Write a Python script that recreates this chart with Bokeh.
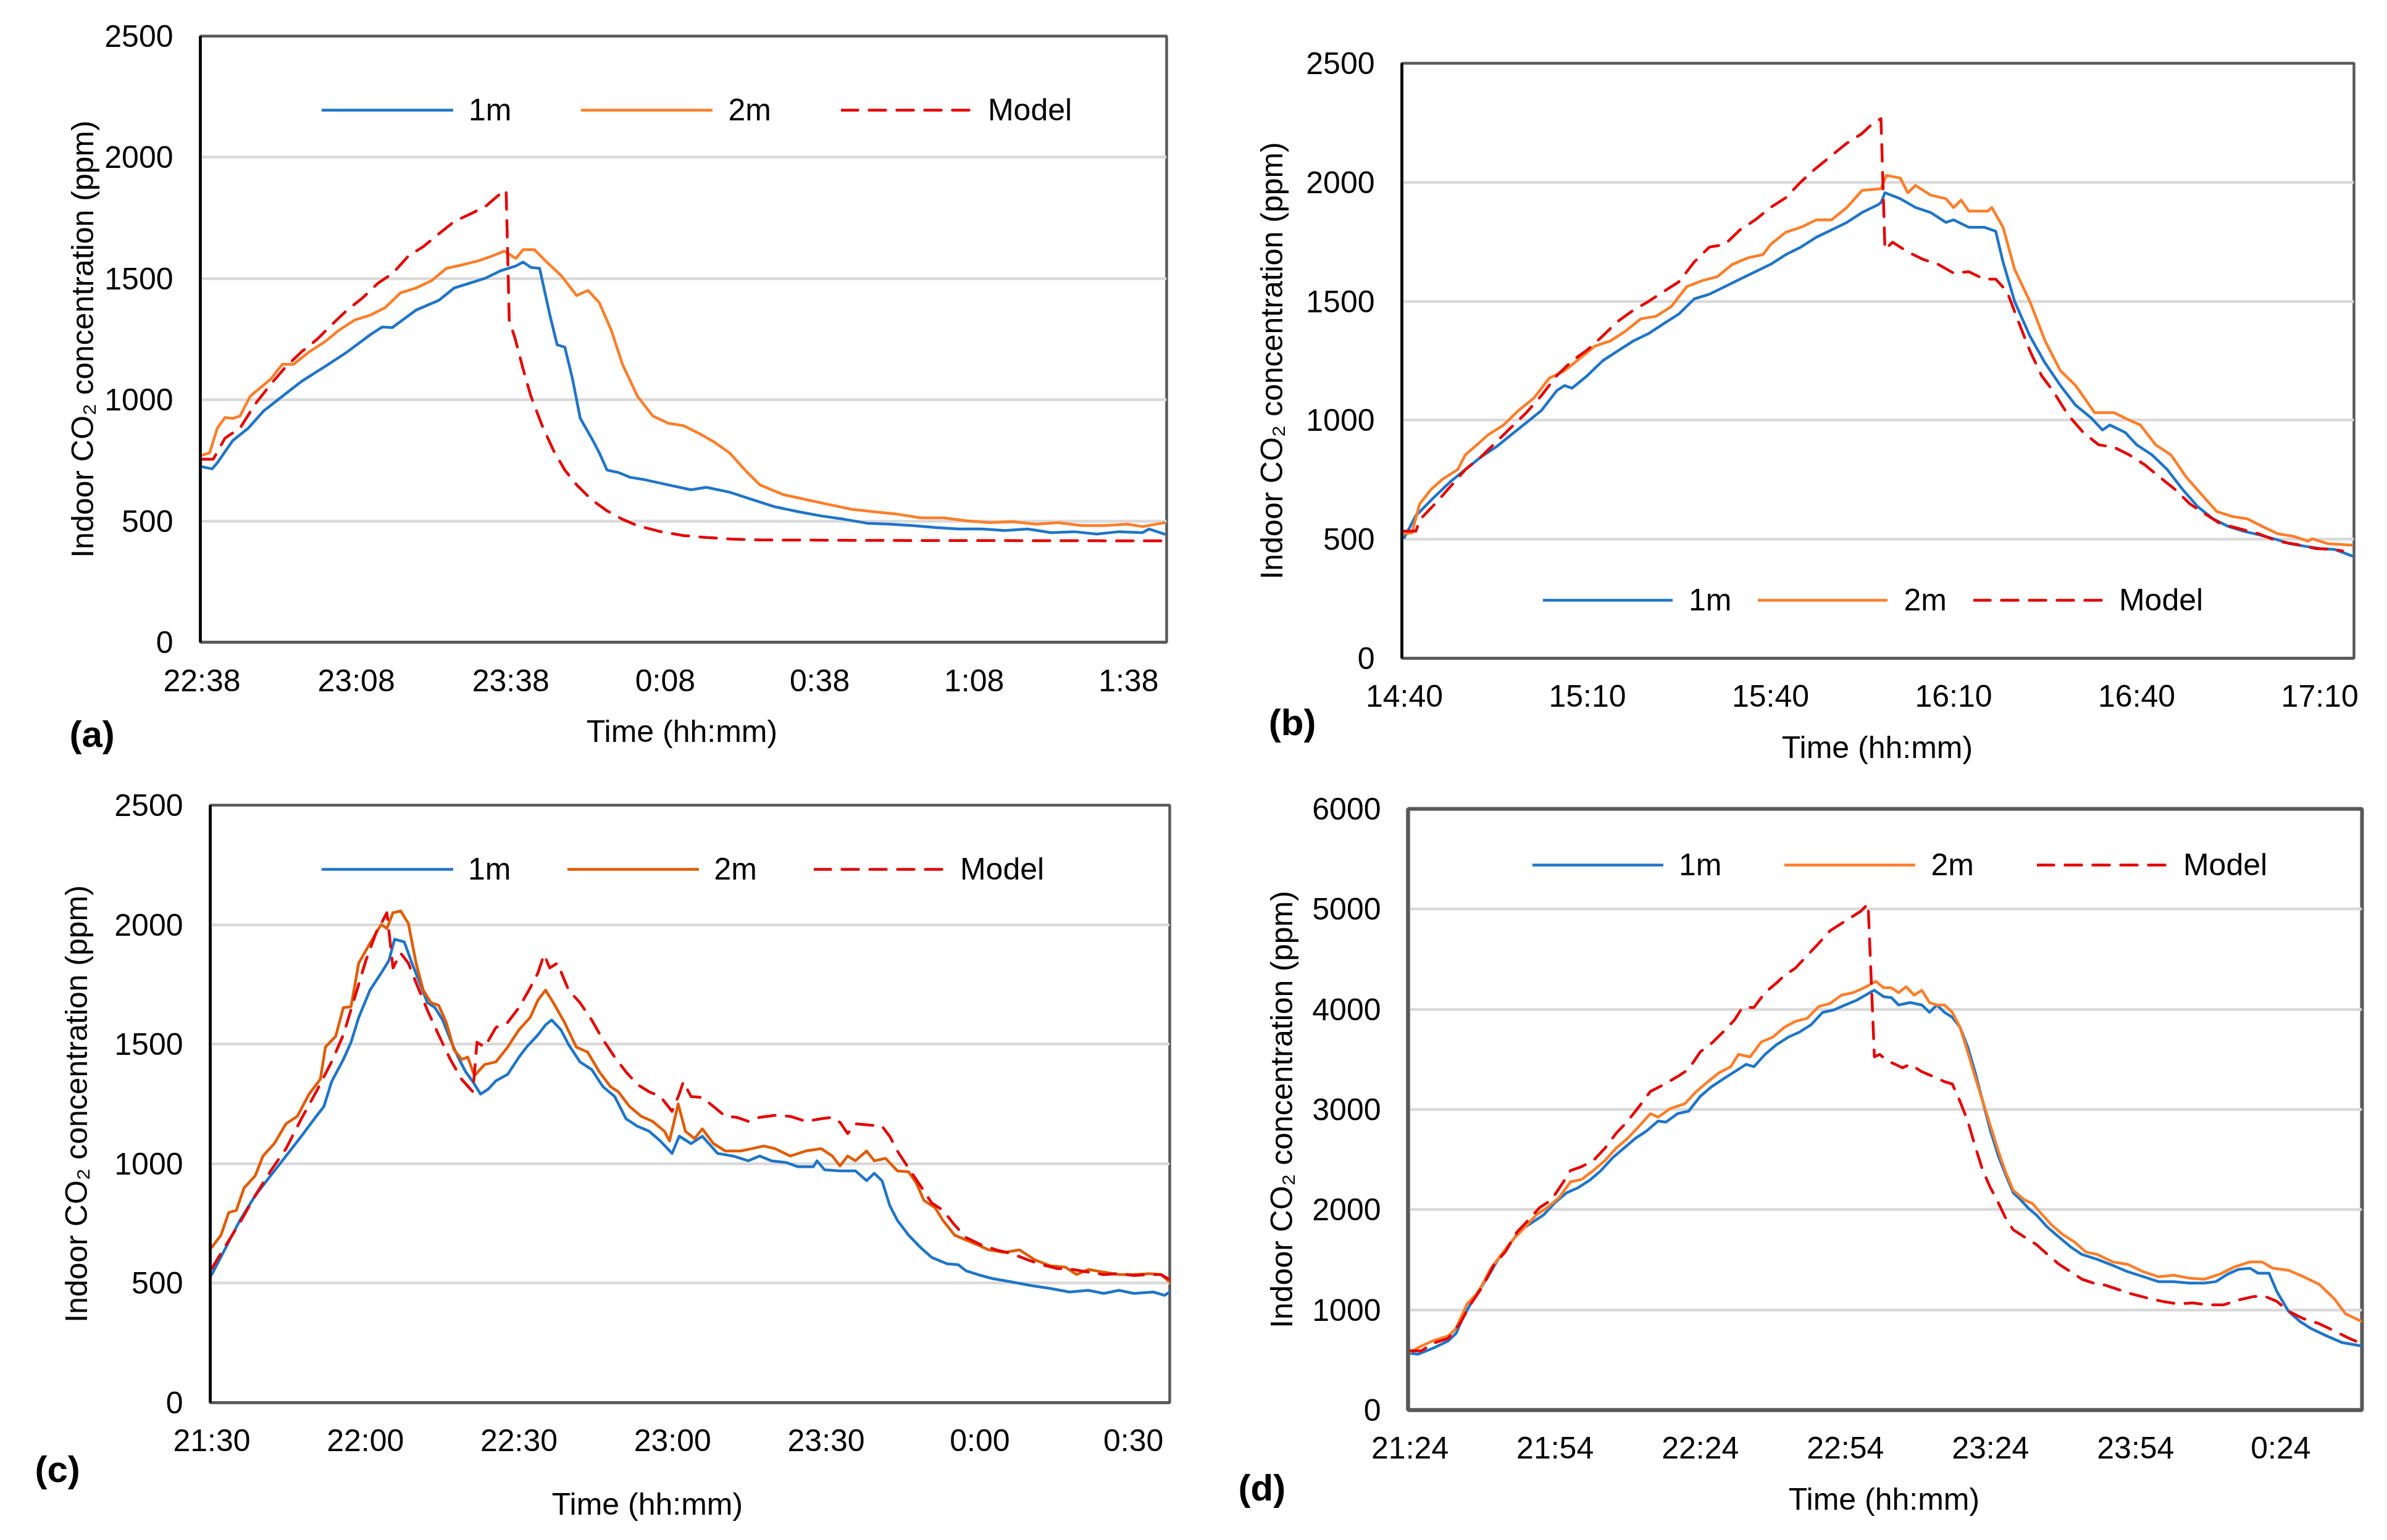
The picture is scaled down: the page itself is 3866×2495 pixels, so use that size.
from bokeh.plotting import figure
from bokeh.models import Range1d, FixedTicker, Legend, LegendItem, Label
from bokeh.layouts import column, row
from bokeh.embed import file_html
from bokeh.resources import INLINE

# ---------------- data (minutes from first tick, ppm) ----------------
a_ticks = ["22:38", "23:08", "23:38", "0:08", "0:38", "1:08", "1:38"]
b_ticks = ["14:40", "15:10", "15:40", "16:10", "16:40", "17:10"]
c_ticks = ["21:30", "22:00", "22:30", "23:00", "23:30", "0:00", "0:30"]
d_ticks = ["21:24", "21:54", "22:24", "22:54", "23:24", "23:54", "0:24"]

series_names = ["1m", "2m", "Model"]

a_1m = [(0,724),(2,715),(3,740),(6,832),(9,883),(12,954),(15,1004),(19.3,1075),(23.8,1136),(28.2,1197),
        (32.7,1268),(35,1300),(37,1298),(41.6,1370),(46,1410),(49,1461),(52,1481),(55,1501),(58,1532),
        (61,1552),(62.4,1568),(63.9,1546),(65.6,1542),(67.6,1349),(69,1227),(70.5,1217),(72,1085),
        (73.5,923),(75.7,842),(77.2,781),(78.7,710),(80.9,700),(83.2,680),(86.1,670),(90.6,649),(95,629),
        (98,639),(102.5,619),(107,588),(111.4,558),(116,538),(120.3,521),(124.8,507),(129.2,491),
        (133.7,487),(138.1,481),(142.6,473),(147,467),(151.5,467),(156,461),(160.4,467),(165,452),
        (169.4,456),(173.8,446),(178.2,456),(182.7,452),(184,467),(187,446)]
a_2m = [(0,771),(1.5,781),(3,883),(4.5,927),(6,923),(7.4,933),(9.4,1015),(11.1,1045),(13.4,1086),
        (15.6,1146),(17.8,1146),(20.8,1197),(23.8,1238),(26.7,1288),(29.7,1329),(32.7,1349),(35.6,1380),
        (38.6,1441),(41.6,1461),(44.6,1491),(47.5,1542),(50.5,1556),(53.5,1572),(56.4,1593),(58.7,1613),
        (61,1583),(62.4,1619),(64.6,1619),(66.8,1572),(69.8,1512),(72.8,1430),(75,1451),(77.2,1400),
        (79.5,1288),(81.7,1146),(84.6,1015),(87.6,933),(90.6,903),(93.6,893),(96.5,862),(99.5,826),
        (102.5,781),(105.5,710),(108.4,649),(112.9,609),(117.4,588),(121.8,568),(126.3,548),(130.7,538),
        (135.2,528),(139.6,513),(144.1,513),(148.5,501),(153,493),(157.5,497),(162,487),(166.4,493),
        (170.9,481),(175.3,481),(179.8,487),(182.7,477),(187,493)]
a_model = [(0,755),(2.2,755),(4.5,842),(7.4,883),(10.4,984),(13.4,1065),(16.3,1136),(19.3,1197),
           (22.3,1248),(25.2,1309),(28.2,1370),(31.2,1420),(34.2,1481),(37.1,1522),(40.1,1593),(43.1,1633),
           (46,1684),(49,1735),(52,1765),(55,1796),(57.2,1836),(58.7,1863),(59.1,1863),(59.7,1329),
           (60.9,1248),(62.4,1126),(63.9,1015),(66.1,893),(68.3,791),(70.5,710),(72.8,649),(75.7,588),
           (78.7,542),(81.7,507),(84.6,481),(89.1,456),(93.6,440),(98,432),(102.5,426),(108.4,422),
           (130,420),(160,419),(187.4,418)]

b_1m = [(0,507),(1.9,600),(2.5,615),(5,680),(7.5,741),(10,793),(12.5,845),(15,887),(17.5,939),(20,990),
        (22.5,1042),(25,1125),(26.25,1146),(27.5,1135),(30,1188),(32.5,1250),(35,1292),(37.5,1333),
        (40,1364),(42.5,1406),(45,1447),(47.5,1510),(50,1530),(52.5,1561),(55,1593),(57.5,1624),
        (60,1655),(62.5,1696),(65,1728),(67.5,1769),(70,1800),(72.5,1831),(75,1873),(77.5,1904),
        (78.1,1914),(78.75,1956),(81.25,1931),(83.75,1894),(86.25,1873),(88.75,1831),(90,1842),
        (92.5,1811),(95,1811),(96.9,1794),(98.1,1665),(100,1499),(102.5,1354),(105,1240),(107.5,1146),
        (110,1063),(112.5,1011),(114.4,959),(115.6,980),(118.1,949),(120,897),(122.5,855),(125,793),
        (127.5,710),(130,637),(132.5,586),(135,554),(137.5,534),(140,519),(142.5,502),(145,482),
        (147.5,471),(150,461),(152.5,457),(155.25,430)]
b_2m = [(0,523),(1.25,527),(2.5,648),(4.4,710),(6.25,752),(8.75,793),(10,855),(11.9,897),(13.75,939),
        (16.25,980),(18.75,1042),(21.25,1094),(23.75,1177),(26.25,1208),(28.75,1260),(31.25,1312),
        (33.75,1333),(36.25,1375),(38.75,1426),(41.25,1437),(43.75,1478),(46.25,1561),(48.75,1586),
        (51.25,1603),(53.75,1655),(56.25,1682),(58.75,1696),(60,1738),(62.5,1790),(65,1811),(67.5,1842),
        (70,1842),(72.5,1894),(75,1966),(78.1,1973),(79,2029),(81.25,2018),(82.5,1956),(83.75,1987),
        (86.25,1946),(88.75,1931),(90,1894),(91.25,1925),(92.5,1879),(95.6,1879),(96.25,1894),
        (98.1,1811),(100,1634),(102.5,1499),(105,1333),(107.5,1208),(110,1146),(113.1,1032),
        (116.25,1032),(118.75,1001),(120.6,980),(123.1,897),(125.6,855),(128.1,762),(130.6,689),
        (133.1,617),(135.6,596),(138.1,586),(140.6,554),(143.1,523),(145.6,513),(148.1,492),
        (148.75,502),(151.25,482),(155.25,475)]
b_model = [(0,534),(1.9,534),(2.5,581),(5,648),(7.5,720),(10,793),(12.5,845),(15,907),(17.5,970),
           (20,1032),(22.5,1105),(25,1188),(27.5,1250),(30,1296),(32.5,1354),(35,1416),(37.5,1462),
           (40,1499),(42.5,1541),(45,1582),(47.5,1665),(50,1728),(52.5,1738),(55,1800),(57.5,1842),
           (60,1894),(62.5,1935),(65,2002),(67.5,2060),(70,2112),(72.5,2164),(75,2205),(76.9,2251),
           (78.1,2267),(78.75,1717),(80,1748),(82.5,1707),(85,1676),(87.5,1655),(90,1618),(92.5,1624),
           (95,1593),(96.9,1593),(98.75,1541),(100.6,1416),(102.5,1292),(104.4,1188),(106.25,1125),
           (108.75,1022),(111.25,949),(113.75,897),(116.25,887),(118.75,855),(121.25,814),(123.75,762),
           (126.25,710),(128.75,648),(131.25,606),(133.75,565),(136.9,544),(140,523),(143.1,492),
           (146.25,478),(149.4,461),(152.5,457),(153.75,451)]

c_1m = [(0,536),(2.5,639),(5.5,763),(8.5,867),(11.5,950),(14.5,1032),(17.5,1115),(20.4,1198),(21.9,1239),
        (23.4,1343),(25.7,1436),(27.2,1508),(28.7,1612),(30.9,1726),(33.1,1798),(34.6,1850),(35.7,1939),
        (37.6,1928),(39.1,1839),(40.6,1757),(42.1,1674),(43.6,1653),(45.1,1601),(46.6,1519),(48.1,1446),
        (49.6,1384),(51,1343),(52.5,1291),(54,1312),(55.5,1347),(57.8,1374),(60,1446),(61.5,1488),
        (63.7,1539),(65.2,1581),(66.4,1601),(68.2,1560),(69.7,1498),(71.9,1426),(74.2,1394),(76.4,1322),
        (78.7,1281),(80.9,1188),(83.1,1157),(85.4,1136),(87.6,1095),(89.9,1043),(91.3,1115),(93.6,1084),
        (95.8,1115),(98.8,1043),(101.8,1032),(104.8,1012),(107,1032),(109.3,1012),(112.2,1005),
        (114.5,987),(117.5,987),(118.2,1012),(119.7,974),(122.7,970),(125.7,970),(127.9,929),(129.4,960),
        (130.9,929),(132.4,826),(133.9,763),(136.1,701),(138.4,650),(140.6,608),(143.6,581),(145.8,577),
        (147.3,552),(149.6,536),(152.5,519),(156.3,505),(160,490),(163.8,478),(167.5,463),(171.2,470),
        (174.2,457),(177.2,470),(180.1,457),(183.9,463),(186.1,449),(187.1,463)]
c_2m = [(0,650),(1.8,701),(3.3,795),(4.8,805),(6.3,898),(8.5,950),(10,1032),(12.2,1084),(14.5,1167),
        (16.7,1198),(19,1291),(21.2,1353),(22.2,1488),(24.2,1533),(25.7,1653),(27.2,1657),(28.7,1839),
        (30.9,1922),(33.1,2001),(34.2,1984),(35.4,2050),(36.9,2057),(38.4,2005),(39.9,1839),(41.3,1726),
        (42.8,1674),(44.3,1663),(45.8,1591),(47.3,1477),(48.8,1436),(50,1446),(51.3,1368),(53.3,1415),
        (55.5,1426),(57.8,1488),(60,1560),(62.2,1612),(63.7,1684),(65.2,1726),(66.7,1674),(68.9,1591),
        (71.2,1488),(73.4,1467),(75.7,1384),(77.9,1322),(79.4,1301),(81.6,1239),(83.9,1198),(86.1,1177),
        (88.4,1136),(89.4,1095),(91.1,1250),(92.5,1136),(94.3,1105),(95.8,1146),(98,1084),(100.3,1053),
        (103.3,1053),(105.5,1063),(107.8,1074),(110,1063),(113,1032),(116,1053),(119,1063),(121.2,1032),
        (122.7,991),(124.2,1032),(125.7,1012),(127.9,1053),(129.4,1012),(131.6,1022),(133.9,970),
        (136.1,966),(137.6,919),(139.1,846),(141.3,815),(142.8,763),(145.1,701),(147.3,681),(149.6,660),
        (151.8,639),(154.8,629),(157.8,639),(160.7,598),(163.7,573),(166.7,567),(168.9,536),(171.2,557),
        (174.2,546),(177.2,536),(180.1,536),(183.1,540),(185.4,536),(187.1,505)]
c_model = [(0,561),(2.5,650),(5.5,753),(8.5,867),(11.5,970),(14.5,1063),(17.5,1188),(20.4,1301),
           (23.4,1426),(25.7,1539),(27.9,1694),(30.1,1850),(32.4,1984),(33.1,2005),(34.2,2050),(35.4,1819),
           (36.9,1881),(38.4,1839),(39.9,1757),(42.1,1643),(44.3,1539),(46.6,1436),(48.8,1353),(51,1301),
           (51.8,1508),(53.3,1488),(55.5,1570),(57.8,1591),(60,1653),(62.2,1736),(63.7,1798),(64.9,1875),
           (66,1819),(67.5,1839),(69.7,1726),(71.9,1674),(74.2,1601),(76.4,1519),(78.7,1446),(80.9,1384),
           (83.1,1332),(85.4,1301),(87.6,1281),(89.9,1219),(91.3,1291),(92.1,1343),(93.6,1281),(95.8,1277),
           (98,1239),(100.3,1198),(102.5,1194),(104.8,1177),(107,1194),(110,1202),(113,1198),(116,1177),
           (119,1188),(121.2,1194),(122.7,1173),(124.2,1126),(125.7,1167),(128.7,1161),(130.9,1157),
           (132.4,1115),(133.9,1053),(136.1,981),(138.4,908),(140.6,836),(142.8,805),(145.1,743),
           (147.3,691),(150.3,660),(153.3,639),(156.3,623),(159.3,598),(162.2,577),(165.2,561),(168.2,557),
           (171.2,546),(174.2,536),(177.2,540),(180.1,532),(183.1,536),(185.4,536),(187.1,515)]

d_1m = [(0,567),(1.6,557),(4.7,616),(7.9,690),(9.5,764),(11.1,937),(13.4,1134),(15.8,1306),(18.2,1504),
        (20.5,1652),(22.9,1799),(25.3,1873),(27.6,1947),(30,2071),(32.4,2169),(34.7,2218),(37.1,2292),
        (39.5,2391),(41.8,2514),(44.2,2613),(46.6,2712),(48.9,2785),(51.3,2884),(52.9,2874),(55.3,2958),
        (57.6,2983),(60,3131),(62.4,3229),(64.7,3303),(67.1,3377),(69.5,3451),(71.1,3427),(73.4,3550),
        (75.8,3648),(78.2,3722),(80.5,3772),(82.9,3845),(85.3,3969),(87.6,3993),(90,4043),(92.4,4092),
        (94.7,4156),(96,4190),(97.9,4126),(99.5,4117),(101,4043),(103.4,4067),(105.8,4043),(107.4,3969),
        (108.9,4043),(110.5,3969),(112.1,3920),(113.7,3821),(115.3,3624),(116.8,3377),(118.4,3081),
        (120,2785),(121.6,2539),(123.2,2342),(124.7,2169),(126.3,2095),(127.9,2011),(129.5,1947),
        (131.8,1824),(134.2,1725),(136.6,1627),(138.9,1553),(142.1,1504),(145.3,1444),(148.4,1380),
        (151.6,1331),(154.7,1282),(157.9,1282),(161.1,1267),(164.2,1267),(166.6,1282),(169,1356),
        (171.3,1405),(173.7,1415),(175.3,1366),(177.6,1366),(179.2,1183),(181.6,986),(183.9,887),
        (186.3,813),(189.5,740),(192.6,675),(196.6,641)]
d_2m = [(0,577),(2.4,641),(4.7,690),(7.9,740),(9.5,813),(11.8,1060),(14.2,1183),(16.6,1405),(18.9,1553),
        (21.3,1701),(23.7,1824),(26.1,1947),(28.4,2021),(30.8,2120),(33.2,2278),(35.5,2302),(37.9,2391),
        (40.3,2490),(42.6,2613),(45,2712),(47.4,2835),(49.7,2958),(51.3,2923),(53.7,3007),(56.8,3057),
        (59.2,3180),(61.6,3278),(63.9,3367),(66.3,3426),(67.9,3550),(70.3,3525),(72.6,3673),(75,3722),
        (77.4,3821),(79.7,3880),(82.1,3909),(84.5,4028),(86.8,4057),(89.2,4141),(91.6,4166),(93.9,4215),
        (96.3,4279),(97.9,4215),(99.5,4215),(101,4166),(102.6,4225),(104.2,4141),(105.8,4190),(107.4,4067),
        (108.9,4043),(110.5,4043),(112.1,3969),(113.7,3821),(115.3,3574),(116.8,3328),(118.4,3081),
        (120,2835),(121.6,2588),(123.2,2366),(124.7,2194),(127.1,2095),(128.7,2061),(130.3,1972),
        (132.6,1849),(135,1750),(137.4,1676),(139.7,1578),(142.1,1553),(145.3,1479),(148.4,1454),
        (151.6,1380),(154.7,1331),(157.9,1346),(161.1,1316),(164.2,1306),(167.4,1356),(170.5,1430),
        (173.7,1479),(176.1,1479),(178.4,1415),(181.6,1395),(184.7,1331),(187.9,1257),(191.1,1109),
        (193.4,961),(196.6,887)]
d_model = [(0,592),(2.4,592),(4.7,666),(7.9,715),(10.3,863),(12.6,1060),(15,1233),(17.4,1454),(19.7,1578),
           (22.1,1775),(24.5,1898),(26.8,2021),(29.2,2095),(31.6,2268),(33.2,2391),(35.5,2430),(37.9,2490),
           (40.3,2613),(42.6,2761),(45,2884),(47.4,3032),(49.7,3180),(52.1,3239),(55.3,3328),(57.6,3402),
           (60,3574),(62.4,3663),(64.7,3772),(67.1,3895),(68.7,4018),(71.1,4018),(73.4,4166),(75.8,4264),
           (77.4,4338),(79.7,4412),(82.1,4536),(84.5,4659),(86.8,4782),(89.2,4856),(91.6,4930),(93.2,4979),
           (94.7,5053),(96,3525),(97.1,3550),(98.7,3486),(100.3,3451),(101.8,3416),(103.4,3451),
           (105.8,3377),(108.2,3328),(110.5,3278),(112.1,3254),(113.7,3081),(115.3,2884),(116.8,2638),
           (118.4,2391),(120,2218),(121.6,2071),(123.2,1908),(124.7,1799),(127.1,1725),(129.5,1652),
           (131.8,1553),(134.2,1454),(136.6,1380),(138.9,1306),(141.3,1267),(143.7,1247),(146.1,1208),
           (149.2,1159),(152.4,1119),(155.5,1085),(158.7,1060),(161.8,1070),(165,1050),(168.2,1050),
           (171.3,1099),(174.5,1134),(176.8,1134),(179.2,1085),(181.6,986),(184.7,912),(187.9,863),
           (191.1,789),(194.2,715),(196.6,666)]

Y_LABEL = "Indoor CO\u2082 concentration (ppm)"
X_LABEL = "Time (hh:mm)"

# ---------------- styling ----------------
FONT = "Liberation Sans"
FS = "50px"
FS_LETTER = "60px"
BLUE = "#1f75c8"
ORANGE = "#fd7e2a"
ORANGE_C = "#e05c00"
RED = "#e30000"
GRID = "#d9d9d9"
FRAME = "#595959"


def make_panel(cfg):
    (bl, br, bt, bb) = cfg["borders"]
    x0, x1 = cfg["xr"]
    ymax = cfg["ymax"]
    fw = cfg["w"] - bl - br
    fh = cfg["h"] - bt - bb
    p = figure(width=cfg["w"], height=cfg["h"], output_backend="svg", toolbar_location=None,
               x_range=Range1d(x0, x1), y_range=Range1d(0, ymax),
               min_border_left=bl, min_border_right=br, min_border_top=bt, min_border_bottom=bb,
               background_fill_color="white", border_fill_color="white")
    p.frame_align = False
    p.outline_line_color = FRAME
    p.outline_line_width = cfg["ow"]
    p.xgrid.visible = False
    p.ygrid.grid_line_color = GRID
    p.ygrid.grid_line_width = 4.5

    labels = cfg["ticks"]
    xt = [30 * i for i in range(len(labels))]
    p.xaxis.ticker = FixedTicker(ticks=xt)
    p.xaxis.major_label_overrides = {v: lab for v, lab in zip(xt, labels)}
    p.yaxis.ticker = FixedTicker(ticks=list(range(0, ymax + 1, cfg["ystep"])))

    for ax in (p.xaxis[0], p.yaxis[0]):
        ax.major_tick_line_color = None
        ax.minor_tick_line_color = None
        ax.major_tick_out = 0
        ax.major_tick_in = 0
        ax.minor_tick_out = 0
        ax.major_label_text_font = FONT
        ax.major_label_text_font_size = FS
        ax.major_label_text_color = "black"
    p.xaxis.axis_line_color = FRAME
    p.xaxis.axis_line_width = cfg["ow"]
    p.xaxis.major_label_standoff = cfg["xstd"]
    p.yaxis.axis_line_color = cfg["lc"]
    p.yaxis.axis_line_width = cfg["lw"]
    p.yaxis.major_label_standoff = 44
    p.yaxis.axis_label = Y_LABEL
    p.yaxis.axis_label_text_font = FONT
    p.yaxis.axis_label_text_font_size = FS
    p.yaxis.axis_label_text_font_style = "normal"
    p.yaxis.axis_label_text_color = "black"
    p.yaxis.axis_label_standoff = cfg["ystd"]

    colors = [BLUE, cfg["c2"], RED]
    rends = []
    for data, col, name in zip(cfg["series"], colors, series_names):
        xs = [d[0] for d in data]
        ys = [d[1] for d in data]
        if name == "Model":
            r = p.line(xs, ys, line_color=col, line_width=4.5, line_dash="27 18", line_cap="round",
                       line_join="round")
        else:
            r = p.line(xs, ys, line_color=col, line_width=4.5, line_join="round", line_cap="round")
        rends.append(r)

    lx, ly, gw, ls, sp = cfg["legend"]
    leg = Legend(items=[LegendItem(label=n, renderers=[r]) for n, r in zip(series_names, rends)],
                 orientation="horizontal", location=(lx, ly), glyph_width=gw, glyph_height=60,
                 label_height=60, label_standoff=ls, spacing=sp, padding=0, margin=0,
                 border_line_color=None, background_fill_alpha=0,
                 label_text_font=FONT, label_text_font_size=FS, label_text_color="black")
    p.add_layout(leg)

    # outside-frame texts (side panels are not clipped), placed by pixel offsets from
    # the frame's bottom-left corner converted through the frame's scales
    def px_to_data(dx, dy):
        return x0 + dx * (x1 - x0) / fw, dy * ymax / fh

    tx, ty = px_to_data(*cfg["time_xy"])
    p.add_layout(Label(x=tx, y=ty, text=X_LABEL,
                       text_font=FONT, text_font_size=FS, text_align="center",
                       text_baseline="middle", text_color="black"), "below")
    lxx, lyy = px_to_data(*cfg["letter_xy"])
    p.add_layout(Label(x=lxx, y=lyy, text=cfg["letter"],
                       text_font=FONT, text_font_size=FS_LETTER, text_font_style="bold",
                       text_align="left", text_baseline="middle", text_color="black"), "left")
    return p


pa = make_panel(dict(w=1952, h=1240, borders=(324, 63, 58, 200), xr=(-0.3, 187.4), ymax=2500, ystep=500,
                     ticks=a_ticks, series=(a_1m, a_2m, a_model), c2=ORANGE,
                     legend=(197, 832, 213, 25, 113), letter="(a)", letter_xy=(-212, -149),
                     time_xy=(780, -144), ystd=4, xstd=34, lc="black", lw=4.5, ow=4.5))
pb = make_panel(dict(w=1898, h=1240, borders=(316, 38, 102, 174), xr=(-0.4, 155.6), ymax=2500, ystep=500,
                     ticks=b_ticks, series=(b_1m, b_2m, b_model), c2=ORANGE,
                     legend=(229, 64, 210, 26, 43), letter="(b)", letter_xy=(-216, -104),
                     time_xy=(771, -144), ystd=24, xstd=33, lc="black", lw=4.5, ow=4.5))
pc = make_panel(dict(w=1952, h=1239, borders=(340, 58, 64, 207), xr=(-0.3, 187.1), ymax=2500, ystep=500,
                     ticks=c_ticks, series=(c_1m, c_2m, c_model), c2=ORANGE_C,
                     legend=(181, 834, 213, 24, 92), letter="(c)", letter_xy=(-284, -108),
                     time_xy=(708, -164), ystd=30, xstd=33, lc="black", lw=4.5, ow=4.5))
pd_ = make_panel(dict(w=1898, h=1239, borders=(328, 25, 70, 195), xr=(-0.4, 196.8), ymax=6000, ystep=1000,
                      ticks=d_ticks, series=(d_1m, d_2m, d_model), c2=ORANGE,
                      legend=(202, 853, 212, 25, 102), letter="(d)", letter_xy=(-275, -126),
                      time_xy=(771, -144), ystd=18, xstd=33, lc=FRAME, lw=6, ow=6))

layout = column(row(pa, pb, spacing=0), row(pc, pd_, spacing=0), spacing=0)
open("out.html", "w").write(file_html(layout, INLINE))
